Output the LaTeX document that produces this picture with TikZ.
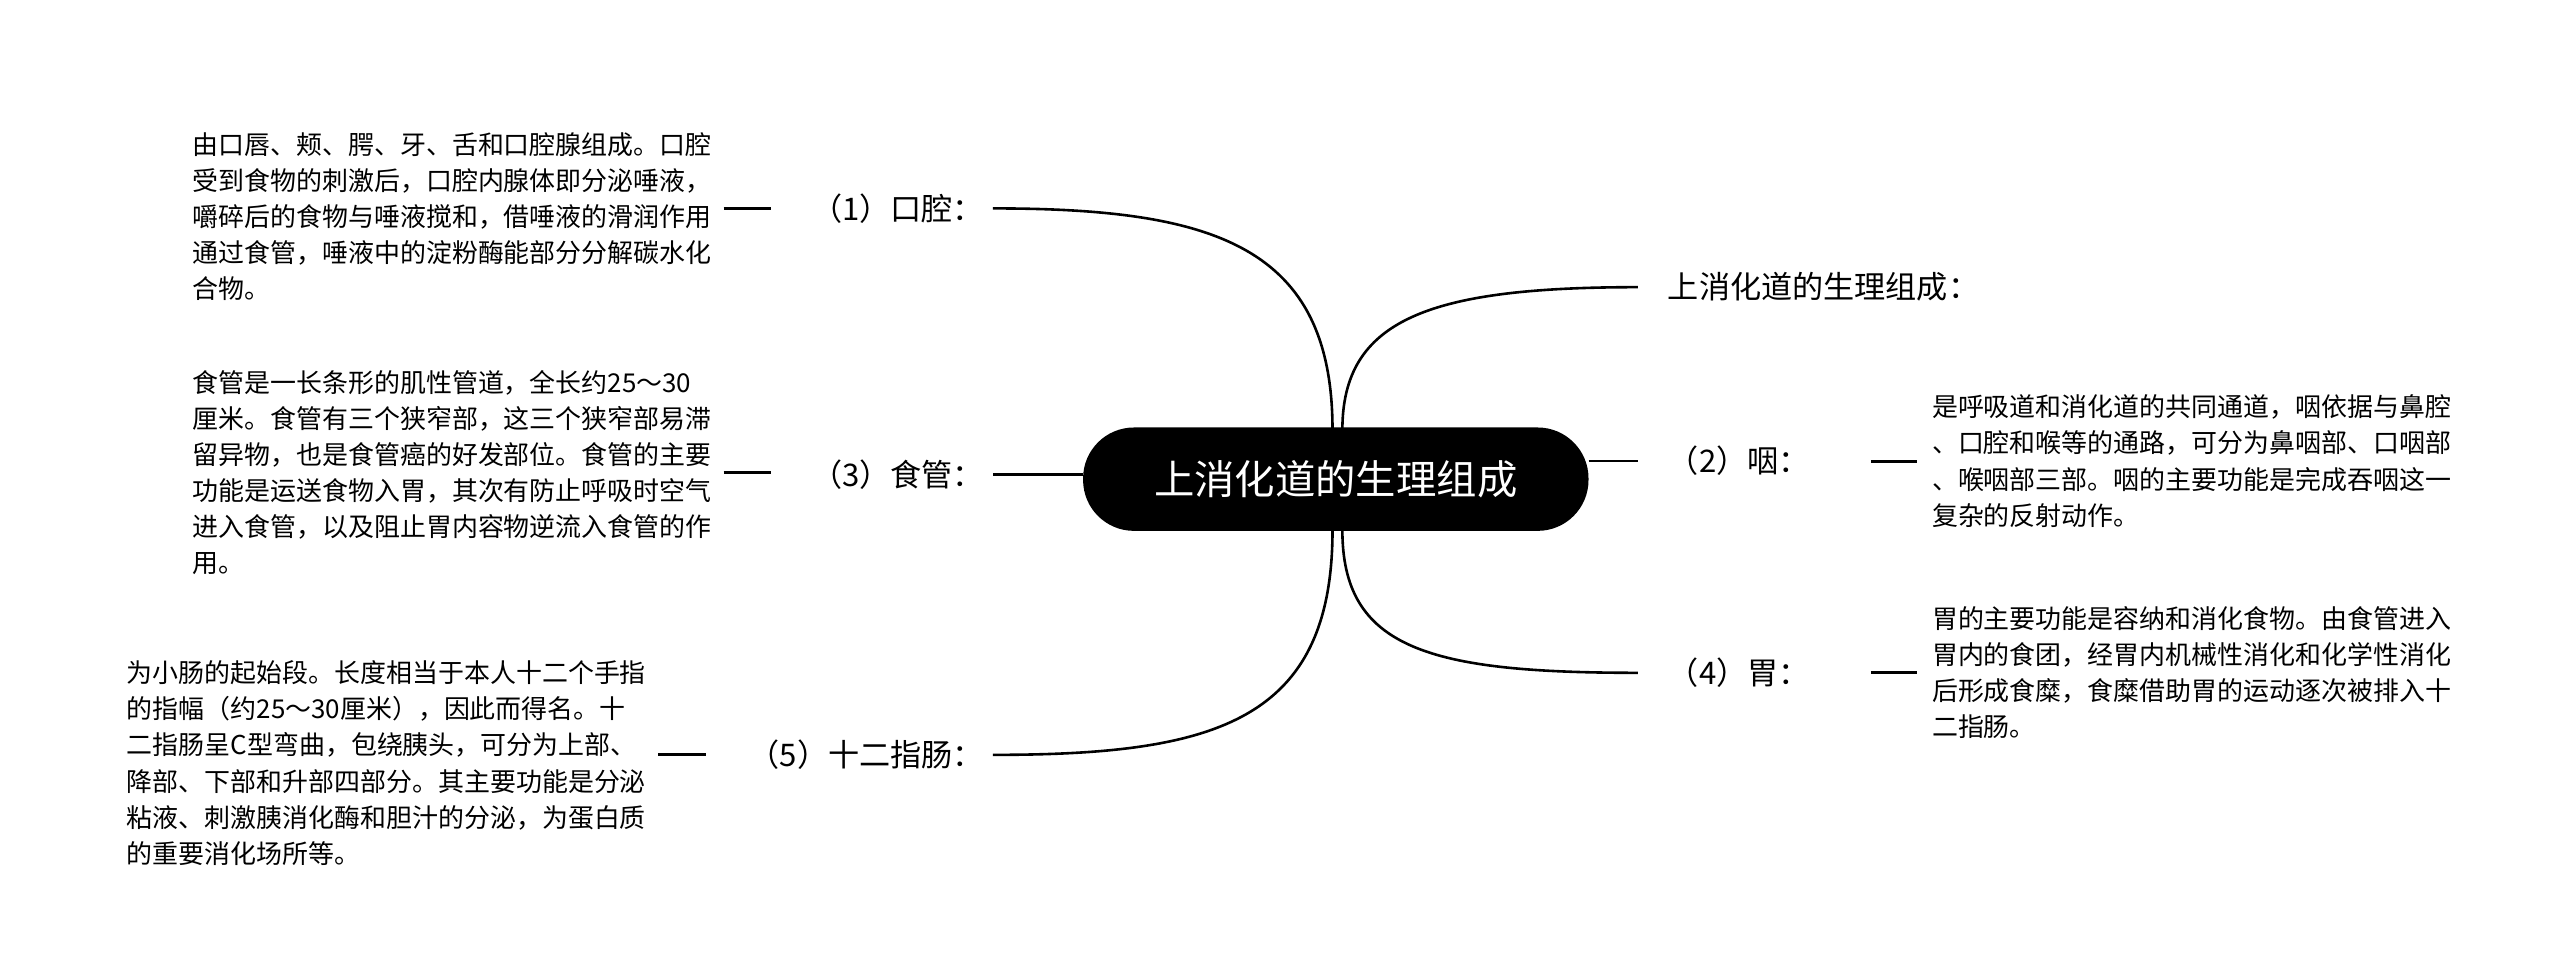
\documentclass[tikz,border=0pt]{standalone}
\usepackage{fontspec}
\setmainfont{Noto Sans CJK SC}
\begin{document}
\begin{tikzpicture}[x=0.02cm,y=-0.02cm,
  desc/.style={align=left,font=\fontsize{9}{12.5}\selectfont,inner sep=0pt},
  lab/.style={font=\fontsize{10.8}{12}\selectfont,inner sep=0pt},
  br/.style={line width=0.9pt,black},
  dashc/.style={line width=1pt,black}]
\useasboundingbox (0,0) rectangle (1560,594);
\node[fill=black,text=white,rounded corners=0.62cm,minimum width=308*0.02cm,minimum height=63*0.02cm,font=\fontsize{14}{16}\selectfont] (c) at (814,292) {上消化道的生理组成};
% labels
\node[lab,anchor=east] (k1) at (600,127) {（1）口腔：};
\node[lab,anchor=east] (k3) at (600,289) {（3）食管：};
\node[lab,anchor=east] (k5) at (600,460) {（5）十二指肠：};
\node[lab,anchor=west] (k0) at (1016,175) {上消化道的生理组成：};
\node[lab,anchor=west] (k2) at (1016,281) {（2）咽：};
\node[lab,anchor=west] (k4) at (1016,410) {（4）胃：};
\coordinate (e1) at (605,127); \coordinate (e3) at (605,289); \coordinate (e5) at (605,460);
\coordinate (e0) at (998,175); \coordinate (e2) at (998,281); \coordinate (e4) at (998,410);
\coordinate (s3) at (660,289); \coordinate (s2) at (968,281);
\draw[br] (812,262) .. controls (812,150) and (740,127) .. (e1);
\draw[br] (s3) -- (e3);
\draw[br] (812,323) .. controls (812,440) and (740,460) .. (e5);
\draw[br] (818,262) .. controls (818,195) and (870,175) .. (e0);
\draw[br] (s2) -- (e2);
\draw[br] (818,323) .. controls (818,395) and (870,410) .. (e4);
% descriptions
\node[desc,anchor=west] (d1) at (117,132) {由口唇、颊、腭、牙、舌和口腔腺组成。口腔\\受到食物的刺激后，口腔内腺体即分泌唾液，\\嚼碎后的食物与唾液搅和，借唾液的滑润作用\\通过食管，唾液中的淀粉酶能部分分解碳水化\\合物。};
\node[desc,anchor=west] (d3) at (117,288) {食管是一长条形的肌性管道，全长约25～30\\厘米。食管有三个狭窄部，这三个狭窄部易滞\\留异物，也是食管癌的好发部位。食管的主要\\功能是运送食物入胃，其次有防止呼吸时空气\\进入食管，以及阻止胃内容物逆流入食管的作\\用。};
\node[desc,anchor=west] (d5) at (77,465) {为小肠的起始段。长度相当于本人十二个手指\\的指幅（约25～30厘米），因此而得名。十\\二指肠呈C型弯曲，包绕胰头，可分为上部、\\降部、下部和升部四部分。其主要功能是分泌\\粘液、刺激胰消化酶和胆汁的分泌，为蛋白质\\的重要消化场所等。};
\node[desc,anchor=west] (d2) at (1177,281) {是呼吸道和消化道的共同通道，咽依据与鼻腔\\、口腔和喉等的通路，可分为鼻咽部、口咽部\\、喉咽部三部。咽的主要功能是完成吞咽这一\\复杂的反射动作。};
\node[desc,anchor=west] (d4) at (1177,410) {胃的主要功能是容纳和消化食物。由食管进入\\胃内的食团，经胃内机械性消化和化学性消化\\后形成食糜，食糜借助胃的运动逐次被排入十\\二指肠。};
% short connectors
\draw[dashc] (441,127) -- (470,127);
\draw[dashc] (441,288) -- (470,288);
\draw[dashc] (401,460) -- (430,460);
\draw[dashc] (1140,281) -- (1168,281);
\draw[dashc] (1140,410) -- (1168,410);
\end{tikzpicture}
\end{document}
